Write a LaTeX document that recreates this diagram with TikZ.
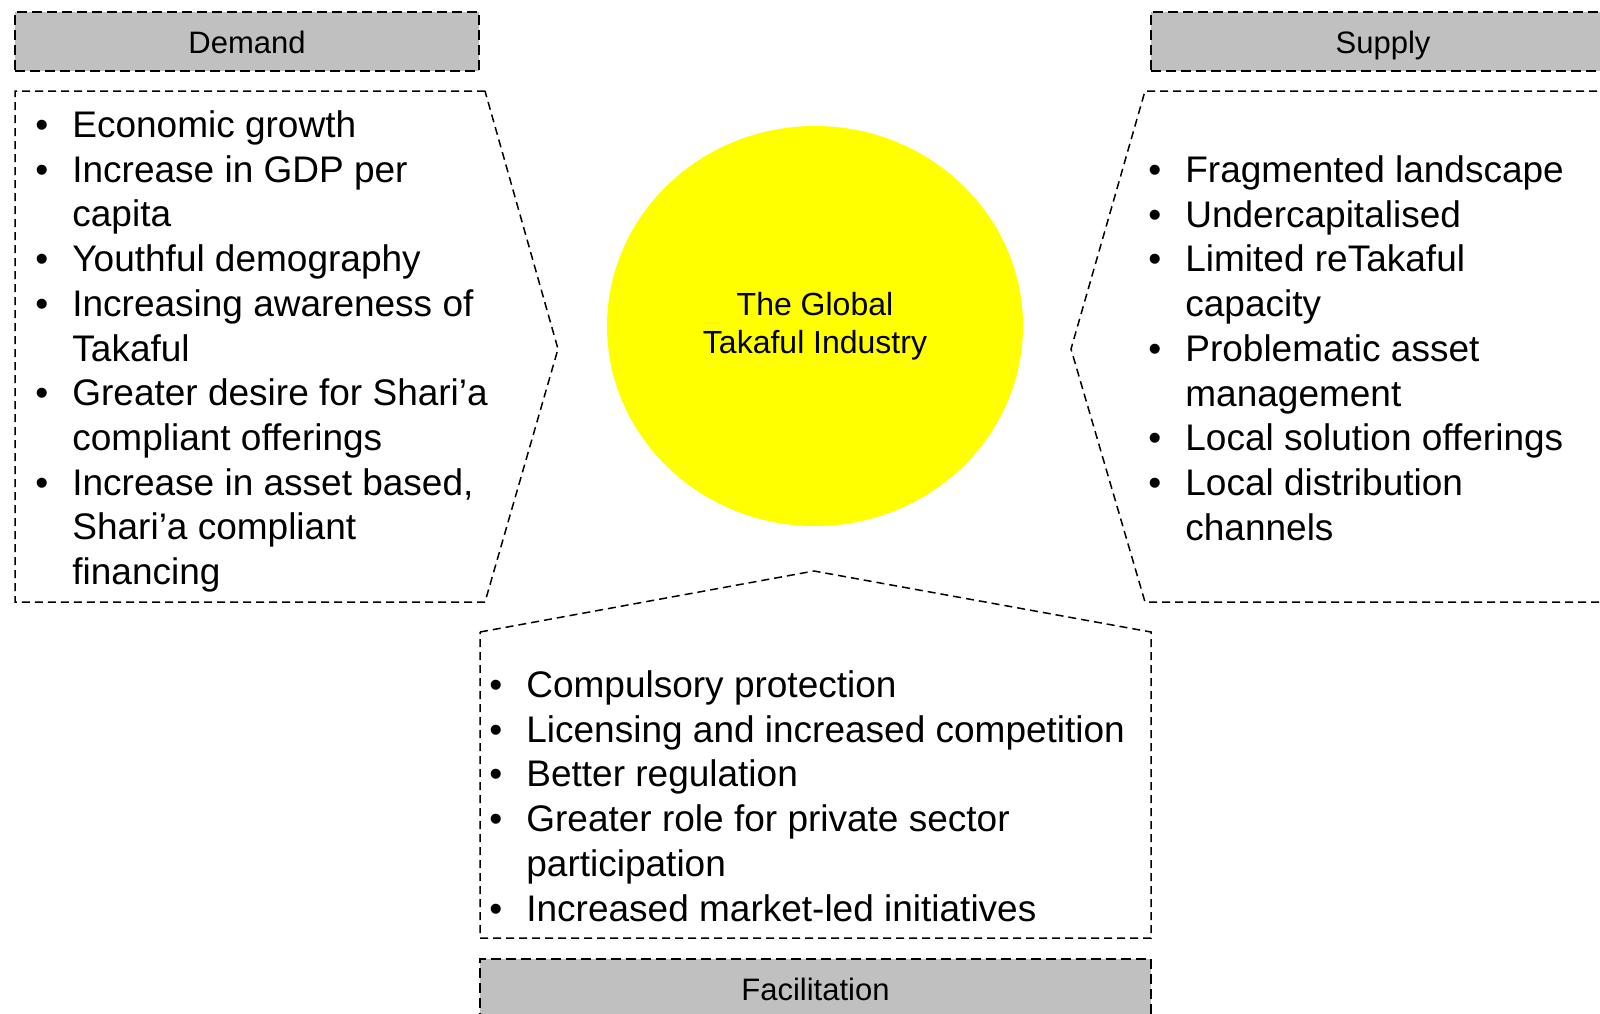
\documentclass[tikz,border=0pt]{standalone}
\usepackage{fontspec}
\setmainfont{Liberation Sans}
\usetikzlibrary{shapes.geometric}
\definecolor{headgray}{RGB}{192,192,192}
\definecolor{hubyellow}{RGB}{255,255,0}
\tikzset{
	headbox/.style={draw, fill=headgray, line width=1pt, dash pattern=on 5pt off 2.5pt,
		minimum width=232pt, minimum height=29.5pt, inner sep=0pt,
		text height=14pt, text depth=2.5pt, font=\fontsize{15.5}{19}\selectfont},
	bodyline/.style={line width=0.75pt, dash pattern=on 4pt off 2.5pt},
	hub/.style={ellipse, fill=hubyellow, minimum width=208pt, minimum height=200pt,
		inner sep=0pt, align=center, font=\fontsize{16}{19.2}\selectfont},
	bullets/.style={anchor=base west, inner sep=0pt, font=\fontsize{18.5}{22.35}\selectfont}
}
\newcommand{\itm}{\makebox[18.5pt][l]{\textbullet}&} % bullet cell

\begin{document}
\begin{tikzpicture}[x=0.5pt, y=-0.5pt]
	% 1600 x 1013 px, 1px = 0.5pt
	\useasboundingbox (0,0) rectangle (1600,1013);
	\clip (0,0) rectangle (1600,1013);
	% headers
	\node[headbox] (demand) at (247,41.5) {Demand};
	\node[headbox] (supply) at (1383,41.5) {Supply};
	\node[headbox, minimum width=335.5pt] (facilitation) at (815.5,988.5) {Facilitation};
	% demand chevron
	\draw[bodyline] (485,91) -- (15,91) -- (15,602) -- (485,602) -- (558,349) -- cycle;
	% supply chevron
	\draw[bodyline] (1610,91) -- (1145,91) -- (1071,349) -- (1145,602) -- (1610,602);
	% facilitation house
	\draw[bodyline] (480,632) -- (814,571) -- (1151,632) -- (1151,938) -- (480,938) -- cycle;
	% centre
	\node[hub] (hub) at (815,326) {The Global\\Takaful Industry};
	% demand list
	\node[bullets] (demandlist) at (35,137.5) {\begin{tabular}[t]{@{}l@{}l@{}}
		\itm Economic growth\\
		\itm Increase in GDP per\\
		& capita\\
		\itm Youthful demography\\
		\itm Increasing awareness of\\
		& Takaful\\
		\itm Greater desire for Shari’a\\
		& compliant offerings\\
		\itm Increase in asset based,\\
		& Shari’a compliant\\
		& financing
	\end{tabular}};
	% supply list
	\node[bullets] (supplylist) at (1148,182.5) {\begin{tabular}[t]{@{}l@{}l@{}}
		\itm Fragmented landscape\\
		\itm Undercapitalised\\
		\itm Limited reTakaful\\
		& capacity\\
		\itm Problematic asset\\
		& management\\
		\itm Local solution offerings\\
		\itm Local distribution\\
		& channels
	\end{tabular}};
	% facilitation list
	\node[bullets] (facilitationlist) at (489,697.5) {\begin{tabular}[t]{@{}l@{}l@{}}
		\itm Compulsory protection\\
		\itm Licensing and increased competition\\
		\itm Better regulation\\
		\itm Greater role for private sector\\
		& participation\\
		\itm Increased market-led initiatives
	\end{tabular}};
\end{tikzpicture}
\end{document}
